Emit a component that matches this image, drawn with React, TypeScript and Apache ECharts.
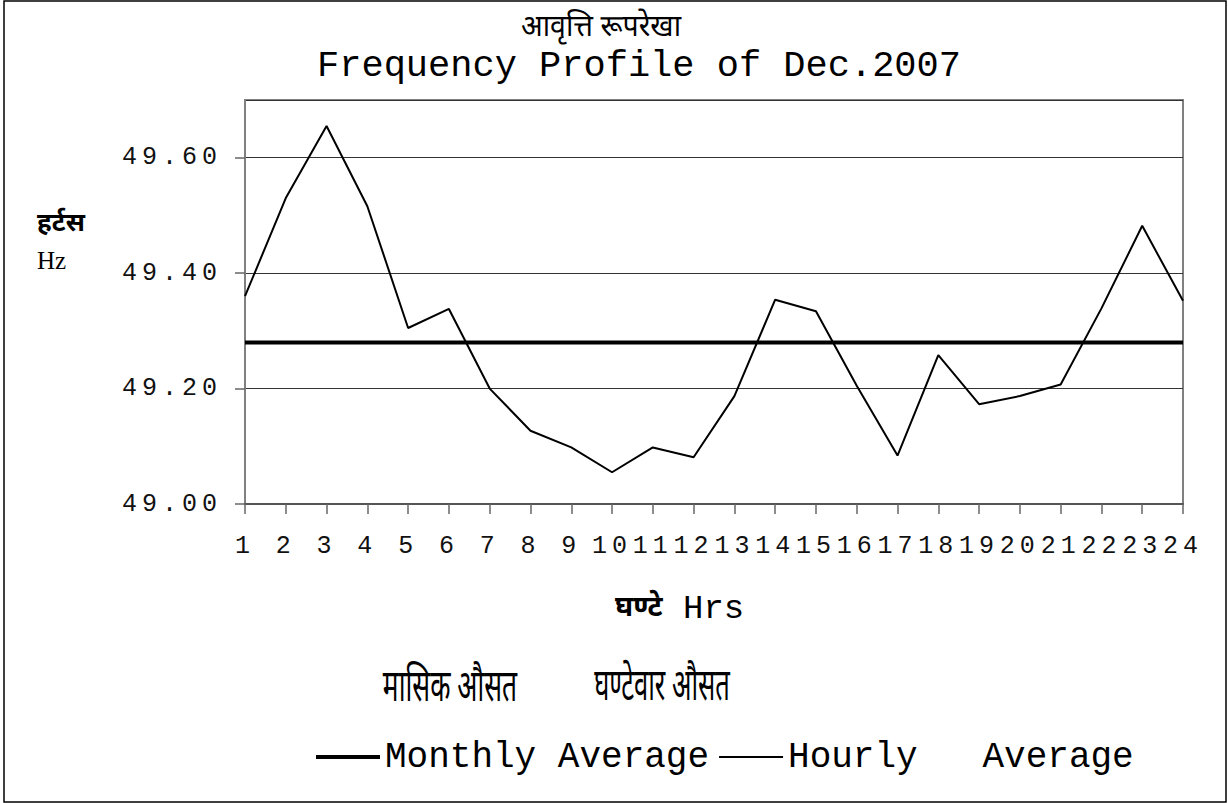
import React, { useEffect, useRef } from "react";
import * as echarts from "echarts";

const hours = ["1", "2", "3", "4", "5", "6", "7", "8", "9", "10", "11", "12", "13", "14", "15", "16", "17", "18", "19", "20", "21", "22", "23", "24"];
const hourlyAverage = [49.36, 49.53, 49.655, 49.516, 49.305, 49.338, 49.2, 49.127, 49.098, 49.055, 49.098, 49.081, 49.187, 49.354, 49.334, 49.205, 49.084, 49.258, 49.173, 49.187, 49.207, 49.339, 49.482, 49.352];
const monthlyAverage = [49.28, 49.28, 49.28, 49.28, 49.28, 49.28, 49.28, 49.28, 49.28, 49.28, 49.28, 49.28, 49.28, 49.28, 49.28, 49.28, 49.28, 49.28, 49.28, 49.28, 49.28, 49.28, 49.28, 49.28];
const yMin = 49.0;
const yMax = 49.7;
const yStep = 0.2;

const titleDevanagari = "आवृत्ति रूपरेखा";
const titleEnglish = "Frequency Profile of Dec.2007";
const yNameDevanagari = "हर्टस";
const yNameEnglish = "Hz";
const xNameDevanagari = "घण्टे";
const xNameEnglish = "Hrs";
const legendDevanagari = ["मासिक औसत", "घण्टेवार औसत"];
const seriesNames = ["Monthly Average", "Hourly   Average"];

const MONO = "'Liberation Mono', monospace";
const SPACED = "'Liberation Mono', 'Cousine', monospace";
const DEVA = "'Noto Sans Devanagari', 'Noto Sans', 'Lohit Devanagari', sans-serif";

export default function App() {
  const ref = useRef<HTMLDivElement>(null);
  useEffect(() => {
    document.body.style.margin = "0";
    if (!ref.current) return;
    const chart = echarts.init(ref.current, null, { renderer: "svg" });
    chart.setOption({
      animation: false,
      backgroundColor: "#ffffff",
      grid: {
        left: 245,
        right: 45,
        top: 100,
        bottom: 299,
        show: true,
        borderColor: "#808080",
        borderWidth: 2,
        backgroundColor: "transparent",
      },
      legend: {
        left: 309,
        top: 734,
        itemWidth: 64,
        itemHeight: 14,
        itemGap: 9,
        data: [
          { name: seriesNames[0], lineStyle: { width: 4, color: "#000" } },
          { name: seriesNames[1], lineStyle: { width: 2, color: "#000" } },
        ],
        itemStyle: { opacity: 0 },
        textStyle: { fontFamily: MONO, fontSize: 36, color: "#000" },
      },
      xAxis: {
        type: "category",
        data: hours,
        boundaryGap: false,
        axisLine: { lineStyle: { color: "#555", width: 2 } },
        axisTick: { length: 10, lineStyle: { color: "#666", width: 1.5 } },
        axisLabel: { fontFamily: SPACED, fontSize: 25, color: "#111", margin: 30, interval: 0 },
        splitLine: { show: false },
      },
      yAxis: {
        type: "value",
        min: yMin,
        max: yMax,
        interval: yStep,
        axisLine: { show: true, lineStyle: { color: "#808080", width: 2 } },
        axisTick: { show: true, length: 10, lineStyle: { color: "#666", width: 1.5 } },
        axisLabel: {
          fontFamily: SPACED,
          fontSize: 25,
          color: "#111",
          margin: 23,
          showMaxLabel: false,
          formatter: (v: number) => v.toFixed(2),
        },
        splitLine: { show: true, lineStyle: { color: "#333", width: 1 } },
      },
      series: [
        {
          name: seriesNames[0],
          type: "line",
          data: monthlyAverage,
          symbol: "none",
          lineStyle: { color: "#000", width: 4 },
          itemStyle: { color: "#000" },
          z: 3,
        },
        {
          name: seriesNames[1],
          type: "line",
          data: hourlyAverage,
          symbol: "none",
          lineStyle: { color: "#000", width: 2 },
          itemStyle: { color: "#000" },
          z: 4,
        },
      ],
      graphic: [
        {
          type: "rect",
          silent: true,
          shape: { x: 4, y: 1, width: 1222, height: 801 },
          style: { fill: "none", stroke: "#000", lineWidth: 1.5 },
        },
        {
          type: "text",
          x: 601,
          y: 29,
          scaleX: 0.95,
          style: { text: titleDevanagari, font: `30px ${DEVA}`, fill: "#000", textAlign: "center", textVerticalAlign: "middle" },
        },
        {
          type: "text",
          x: 639,
          y: 66,
          style: { text: titleEnglish, font: `37px ${MONO}`, fill: "#000", textAlign: "center", textVerticalAlign: "middle" },
        },
        {
          type: "text",
          x: 37,
          y: 225,
          style: { text: yNameDevanagari, font: `bold 26px ${DEVA}`, fill: "#000", textAlign: "left", textVerticalAlign: "middle" },
        },
        {
          type: "text",
          x: 37,
          y: 260,
          style: { text: yNameEnglish, font: `25px 'Liberation Serif', serif`, fill: "#000", textAlign: "left", textVerticalAlign: "middle" },
        },
        {
          type: "text",
          x: 615,
          y: 609,
          style: { text: xNameDevanagari, font: `bold 28px ${DEVA}`, fill: "#000", textAlign: "left", textVerticalAlign: "middle" },
        },
        {
          type: "text",
          x: 683,
          y: 609,
          style: { text: xNameEnglish, font: `34px ${MONO}`, fill: "#000", textAlign: "left", textVerticalAlign: "middle" },
        },
        {
          type: "text",
          x: 450,
          y: 690,
          scaleX: 0.6,
          style: { text: legendDevanagari[0], font: `44px ${DEVA}`, fill: "#000", textAlign: "center", textVerticalAlign: "middle" },
        },
        {
          type: "text",
          x: 662,
          y: 690,
          scaleX: 0.58,
          style: { text: legendDevanagari[1], font: `44px ${DEVA}`, fill: "#000", textAlign: "center", textVerticalAlign: "middle" },
        },
      ],
    });
    return () => chart.dispose();
  }, []);
  return (
    <>
      <style>{`.chart text { white-space: pre; } .chart text[style*="Cousine"] { letter-spacing: 5px; }`}</style>
      <div className="chart" ref={ref} style={{ width: 1228, height: 803 }} />
    </>
  );
}
